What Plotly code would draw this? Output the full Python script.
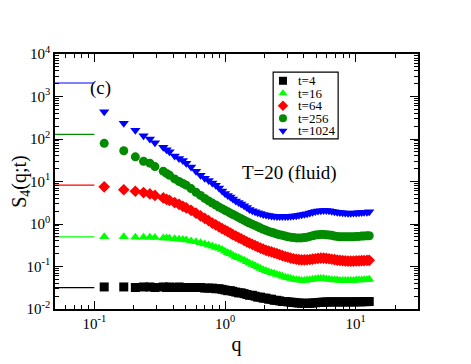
import plotly.graph_objects as go

# wave numbers q
q = [0.119, 0.168, 0.206, 0.238, 0.266, 0.291, 0.337, 0.357, 0.376, 0.412, 0.445, 0.476, 0.505,
     0.55, 0.60, 0.65, 0.70, 0.75, 0.80, 0.85, 0.90, 0.95, 1.00,
     1.05, 1.10, 1.15, 1.21, 1.27, 1.33, 1.40, 1.47, 1.54,
     1.62, 1.70, 1.78, 1.87, 1.96, 2.06, 2.16, 2.27, 2.38, 2.50,
     2.62, 2.75, 2.89, 3.03, 3.18, 3.34, 3.51, 3.68,
     3.86, 4.05, 4.25, 4.46, 4.68, 4.91, 5.15, 5.41, 5.68, 5.96,
     6.25, 6.56, 6.88, 7.22, 7.57, 7.94, 8.33, 8.74, 9.17, 9.62, 10.1, 10.6, 11.1, 11.6, 12.2, 12.7]

s4_t4 = [0.033, 0.033, 0.032, 0.033, 0.033, 0.032, 0.033, 0.032, 0.033, 0.032, 0.033, 0.032, 0.032,
         0.032, 0.032, 0.032, 0.031, 0.031, 0.031, 0.030, 0.030, 0.029, 0.028,
         0.027, 0.027, 0.026, 0.025, 0.024, 0.024, 0.023, 0.022, 0.021,
         0.021, 0.020, 0.019, 0.019, 0.018, 0.018, 0.017, 0.017, 0.016, 0.016,
         0.0155, 0.015, 0.015, 0.0147, 0.0145, 0.0143, 0.014, 0.0138,
         0.0137, 0.0136, 0.0136, 0.0137, 0.0138, 0.014, 0.0142, 0.0144, 0.0145, 0.0146,
         0.0147, 0.0147, 0.0147, 0.0147, 0.0147, 0.0147, 0.0147, 0.0147, 0.0147, 0.0147,
         0.0148, 0.0148, 0.0148, 0.0149, 0.0149, 0.015]

s4_t16 = [0.50, 0.50, 0.49, 0.49, 0.49, 0.48, 0.47, 0.47, 0.46, 0.45, 0.44, 0.43, 0.42,
          0.40, 0.38, 0.36, 0.34, 0.32, 0.30, 0.28, 0.27, 0.25, 0.23,
          0.21, 0.20, 0.185, 0.17, 0.16, 0.15, 0.14, 0.13, 0.12,
          0.112, 0.104, 0.097, 0.09, 0.084, 0.079, 0.075, 0.071, 0.068, 0.065,
          0.062, 0.059, 0.056, 0.054, 0.052, 0.050, 0.049, 0.048,
          0.047, 0.047, 0.048, 0.049, 0.050, 0.051, 0.052, 0.052, 0.052, 0.051,
          0.050, 0.049, 0.048, 0.048, 0.047, 0.047, 0.047, 0.047, 0.047, 0.047,
          0.048, 0.048, 0.048, 0.049, 0.049, 0.050]

s4_t64 = [7.5, 6.4, 5.9, 5.5, 5.1, 4.7, 4.1, 3.8, 3.6, 3.2, 2.9, 2.6, 2.4,
          2.1, 1.8, 1.55, 1.35, 1.2, 1.05, 0.95, 0.86, 0.78, 0.72,
          0.66, 0.61, 0.56, 0.52, 0.48, 0.45, 0.41, 0.38, 0.355,
          0.33, 0.31, 0.29, 0.27, 0.255, 0.24, 0.23, 0.22, 0.21, 0.20,
          0.19, 0.18, 0.172, 0.165, 0.158, 0.152, 0.148, 0.145,
          0.143, 0.143, 0.144, 0.146, 0.149, 0.152, 0.155, 0.157, 0.157, 0.155,
          0.152, 0.148, 0.145, 0.142, 0.139, 0.137, 0.135, 0.134, 0.134, 0.134,
          0.135, 0.136, 0.137, 0.138, 0.139, 0.14]

s4_t256 = [79, 53, 38, 30, 27, 22.4, 17.5, 15.5, 14, 11.5, 10, 9, 8.2,
           6.8, 5.6, 4.7, 4.0, 3.5, 3.1, 2.8, 2.5, 2.3, 2.1,
           1.95, 1.8, 1.67, 1.55, 1.43, 1.33, 1.22, 1.13, 1.05,
           0.98, 0.92, 0.86, 0.8, 0.75, 0.71, 0.67, 0.64, 0.61, 0.58,
           0.56, 0.54, 0.52, 0.5, 0.49, 0.48, 0.47, 0.47,
           0.47, 0.48, 0.49, 0.51, 0.53, 0.55, 0.56, 0.57, 0.57, 0.56,
           0.55, 0.54, 0.52, 0.51, 0.5, 0.5, 0.5, 0.5, 0.5, 0.5,
           0.51, 0.51, 0.52, 0.52, 0.53, 0.53]

s4_t1024 = [440, 235, 160, 120, 100, 82, 64, 56, 50, 40, 35, 31, 27,
            22, 17.5, 14, 12, 10.5, 9.2, 8.2, 7.0, 6.0, 5.2,
            4.7, 4.3, 3.9, 3.5, 3.2, 2.95, 2.7, 2.45, 2.2,
            2.05, 1.95, 1.85, 1.76, 1.68, 1.62, 1.58, 1.55, 1.53, 1.51,
            1.5, 1.5, 1.5, 1.51, 1.52, 1.54, 1.57, 1.6,
            1.64, 1.69, 1.75, 1.82, 1.89, 1.96, 2.02, 2.06, 2.08, 2.07,
            2.04, 2.0, 1.95, 1.9, 1.86, 1.83, 1.81, 1.8, 1.8, 1.81,
            1.82, 1.84, 1.86, 1.88, 1.9, 1.95]

labels = ['t=4', 't=16', 't=64', 't=256', 't=1024']
series = [s4_t4, s4_t16, s4_t64, s4_t256, s4_t1024]
colors = ['#000000', '#00ff00', '#ff0000', '#008b00', '#0000ff']
symbols = ['square', 'triangle-up', 'diamond', 'circle', 'triangle-down']

# q -> 0 limits, drawn as short lines at the left edge
plateau = [0.032, 0.50, 8.2, 129, 2080]
plateau_q = [0.05, 0.1]

x_ticks = [0.1, 1, 10]
x_ticktext = ['10<sup>-1</sup>', '10<sup>0</sup>', '10<sup>1</sup>']
y_ticks = [0.01, 0.1, 1, 10, 100, 1000, 10000]
y_ticktext = ['10<sup>-2</sup>', '10<sup>-1</sup>', '10<sup>0</sup>', '10<sup>1</sup>',
              '10<sup>2</sup>', '10<sup>3</sup>', '10<sup>4</sup>']

serif = 'Liberation Serif, Times New Roman, serif'

fig = go.Figure()

for p, c in zip(plateau, colors):
    fig.add_trace(go.Scatter(x=plateau_q, y=[p, p], mode='lines',
                             line=dict(color=c, width=1.2), showlegend=False))

for ys, c, s, lab in zip(series, colors, symbols, labels):
    fig.add_trace(go.Scatter(x=q, y=ys, mode='markers', name=lab,
                             marker=dict(symbol=s, size=9, color=c, line=dict(width=0)),
                             showlegend=False))

# hand-made legend box (plotly's own legend rows are too tall)
leg_x0, leg_x1, leg_y0, leg_y1 = 0.601, 0.780, 0.667, 0.929
leg_top, leg_step = 0.895, 0.049
leg_y = [leg_top - i * leg_step for i in range(len(labels))]
fig.add_trace(go.Scatter(x=[0.628] * len(labels), y=leg_y, mode='markers',
                         marker=dict(symbol=symbols, color=colors, size=8),
                         xaxis='x2', yaxis='y2', showlegend=False, hoverinfo='skip'))
for lab, yy in zip(labels, leg_y):
    fig.add_annotation(x=0.664, y=yy, xref='paper', yref='paper', text=lab,
                       showarrow=False, xanchor='left', yanchor='middle',
                       font=dict(family=serif, size=13, color='black'))
fig.add_shape(type='rect', xref='paper', yref='paper', x0=leg_x0, x1=leg_x1,
              y0=leg_y0, y1=leg_y1, line=dict(color='black', width=1.2))

fig.add_annotation(x=0.091, y=0.918, xref='paper', yref='paper', text='(c)',
                   showarrow=False, font=dict(family=serif, size=19, color='black'))
fig.add_annotation(x=0.782, y=0.533, xref='paper', yref='paper', text='T=20 (fluid)',
                   showarrow=False, font=dict(family=serif, size=19, color='black'))

axis_common = dict(
    type='log', showline=True, linecolor='black', linewidth=1.5, mirror='allticks',
    ticks='inside', ticklen=8, tickwidth=1.2, tickcolor='black',
    showgrid=False, zeroline=False, automargin=False,
    tickfont=dict(family=serif, size=15, color='black'),
)

# the html page adds an 8px body margin, so the figure is 16px smaller than the window
fig.update_layout(
    width=455, height=348,
    margin=dict(l=47, r=45, t=46, b=47),
    paper_bgcolor='white', plot_bgcolor='white',
    xaxis=dict(axis_common, range=[-1.301, 1.477], tickmode='array',
               tickvals=x_ticks, ticktext=x_ticktext,
               minor=dict(tickmode='array',
                          tickvals=[0.05, 0.06, 0.07, 0.08, 0.09, 0.2, 0.3, 0.4, 0.5, 0.6, 0.7, 0.8, 0.9,
                                    2, 3, 4, 5, 6, 7, 8, 9, 20, 30],
                          ticks='inside', ticklen=4, tickwidth=1, tickcolor='black', showgrid=False),
               title=dict(text='q', font=dict(family=serif, size=20, color='black'))),
    yaxis=dict(axis_common, range=[-2, 4], tickmode='array',
               tickvals=y_ticks, ticktext=y_ticktext,
               minor=dict(tickmode='array',
                          tickvals=[m * d for d in [0.01, 0.1, 1, 10, 100, 1000]
                                    for m in [2, 3, 4, 5, 6, 7, 8, 9]],
                          ticks='inside', ticklen=4, tickwidth=1, tickcolor='black', showgrid=False),
               title=dict(text='S<sub>4</sub>(q;t)', font=dict(family=serif, size=20, color='black'))),
    xaxis2=dict(overlaying='x', range=[0, 1], visible=False),
    yaxis2=dict(overlaying='y', range=[0, 1], visible=False),
    showlegend=False,
)

fig.write_html('out.html')
